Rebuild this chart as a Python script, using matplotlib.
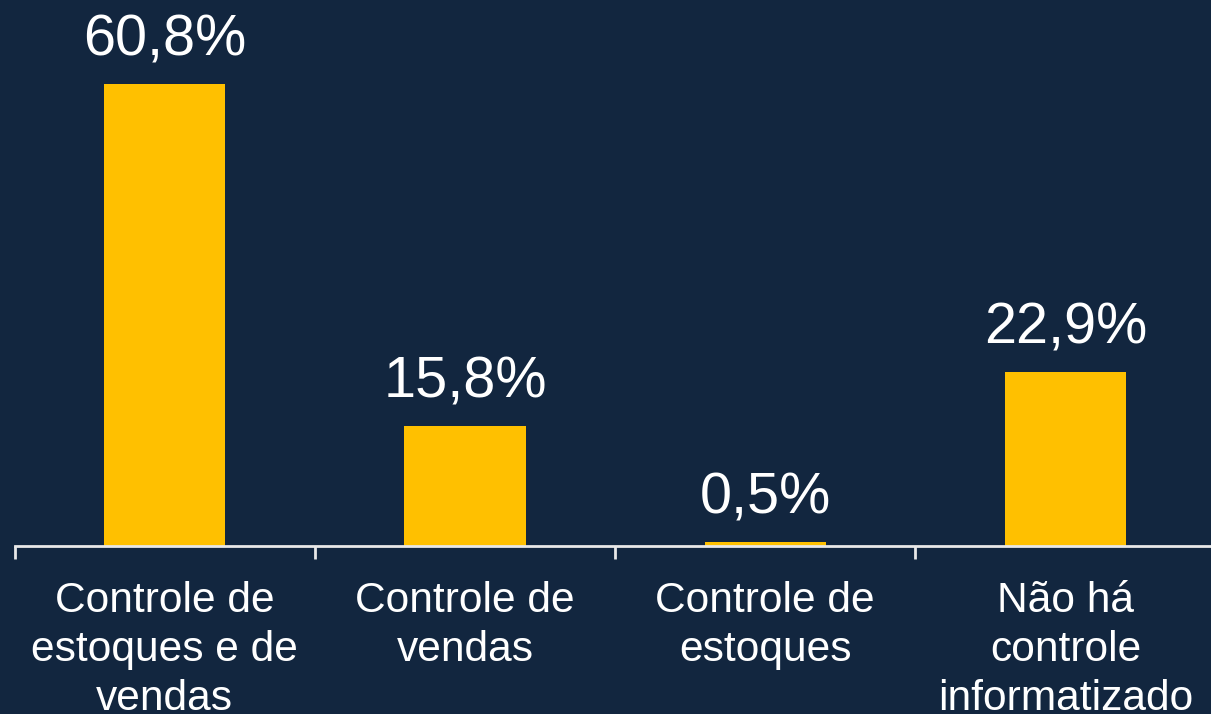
import matplotlib.pyplot as plt

categories = ["Controle de\nestoques e de\nvendas", "Controle de\nvendas",
              "Controle de\nestoques", "Não há\ncontrole\ninformatizado"]
values = [60.8, 15.8, 0.5, 22.9]

bg = "#12263f"
bar_color = "#ffc000"

plt.rcParams['font.family'] = ['Liberation Sans', 'DejaVu Sans']

fig = plt.figure(figsize=(12.11, 7.14), dpi=100, facecolor=bg)
ax = fig.add_axes([14.5 / 1211, 1 - 546 / 714, 4 * 300.3 / 1211, 546 / 714])
ax.set_facecolor(bg)

x = list(range(len(categories)))
ax.bar(x, values, width=0.404, color=bar_color)

for xi, v in zip(x, values):
    ax.text(xi, v + 2.2, f"{v:.1f}".replace('.', ',') + '%', ha='center', va='bottom',
            color='white', fontsize=41.5)

ax.set_xlim(-0.5, 3.5)
ax.set_ylim(0, 546 / 7.6)

for side in ['top', 'right', 'left']:
    ax.spines[side].set_visible(False)
ax.spines['bottom'].set_color('#e8e8e8')
ax.spines['bottom'].set_linewidth(2)

ax.set_yticks([])
ax.set_xticks(x)
ax.set_xticklabels(categories, color='white', fontsize=30.6, linespacing=1.29)
ax.tick_params(axis='x', which='major', length=0, pad=25)
ax.set_xticks([-0.5, 0.5, 1.5, 2.5, 3.5], minor=True)
ax.tick_params(axis='x', which='minor', length=9, width=2, color='#e8e8e8', direction='out')

fig.savefig("out.png", dpi=100, facecolor=bg)
